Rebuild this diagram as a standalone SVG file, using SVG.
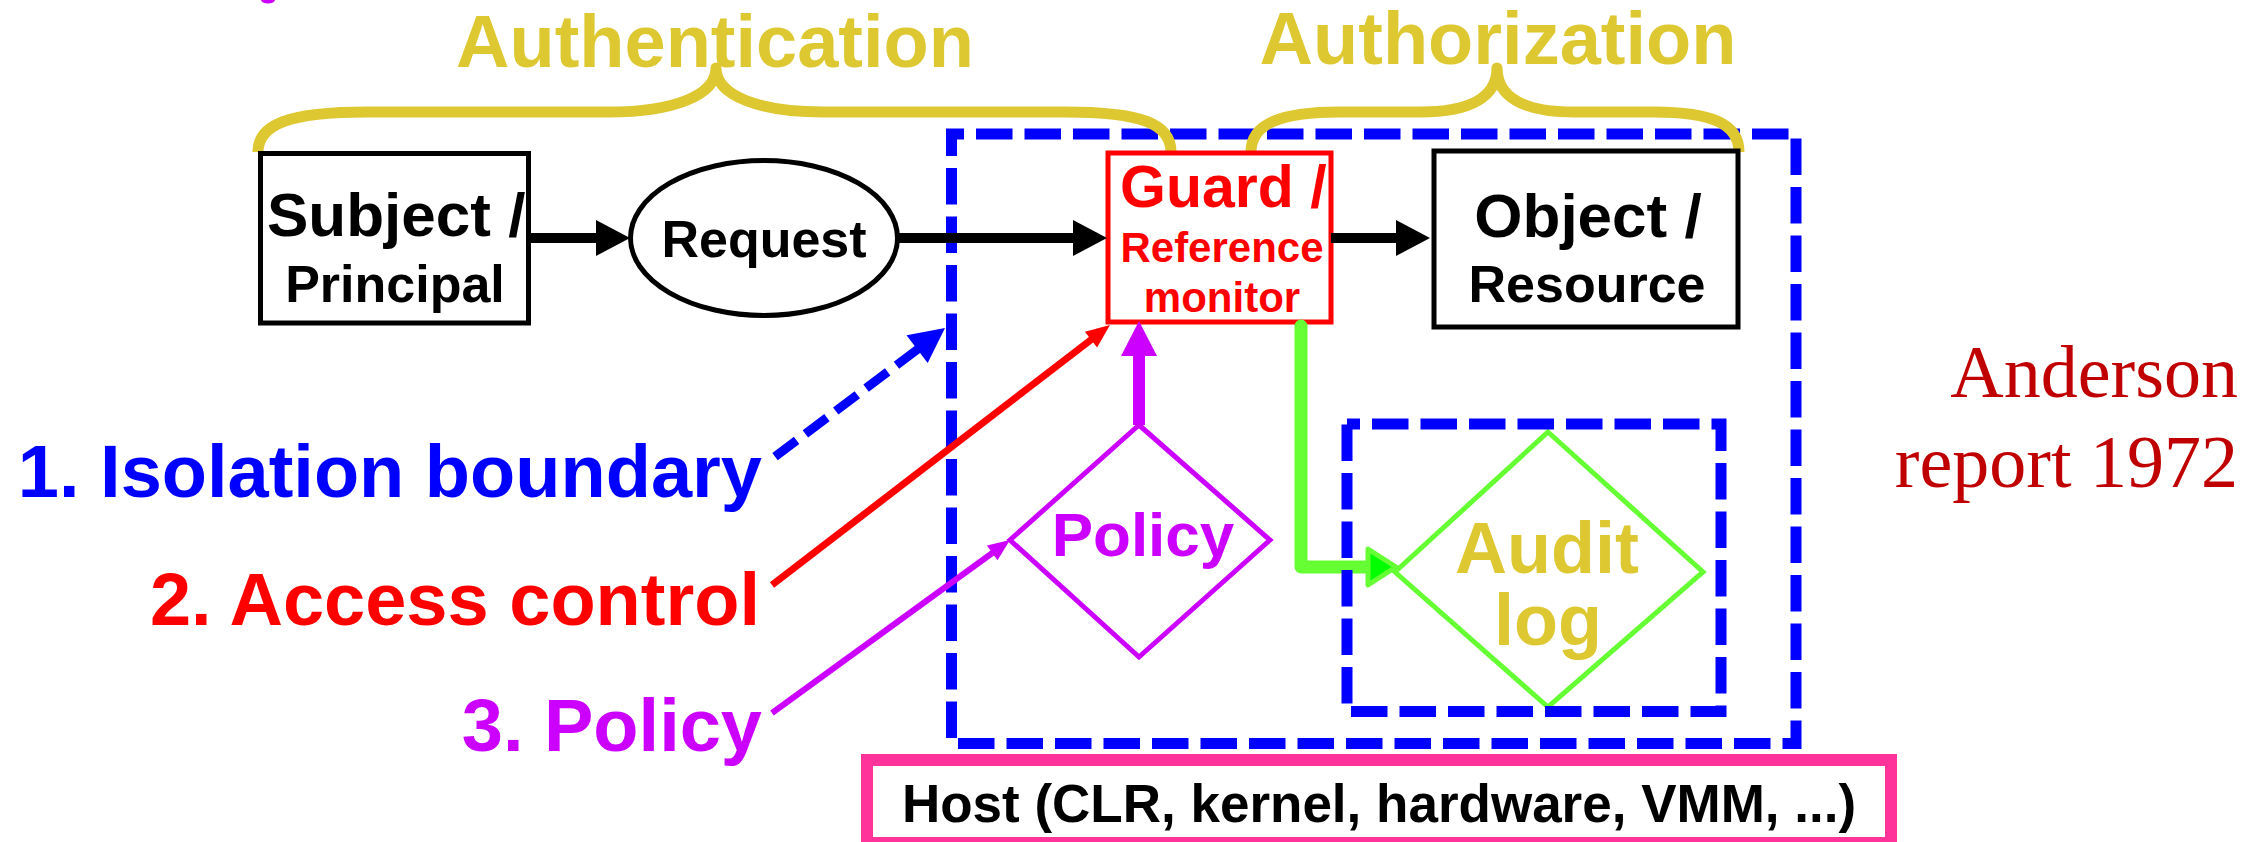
<svg xmlns="http://www.w3.org/2000/svg" width="2266" height="842" viewBox="0 0 2266 842">
<style>
.sans{font-family:"Liberation Sans",Arial,sans-serif;font-weight:bold}
.serif{font-family:"Liberation Serif","Times New Roman",serif}
.mid{text-anchor:middle}
.end{text-anchor:end}
.gold{fill:#DEC832}
.brace{fill:none;stroke:#DEC832;stroke-width:11;stroke-linecap:butt;stroke-linejoin:round}
.bdash{fill:none;stroke:#0000FF;stroke-width:11;stroke-dasharray:36.5 12}
.blk{fill:none;stroke:#000;stroke-width:5}
</style>
<defs>
<marker id="ah" markerUnits="userSpaceOnUse" markerWidth="36" markerHeight="38" refX="0" refY="18" orient="auto">
<path d="M0,0 L34,18 L0,36 z" fill="#000"/>
</marker>
</defs>
<rect width="2266" height="842" fill="#fff"/>
<ellipse cx="268" cy="0" rx="7" ry="3.5" fill="#CC00FF"/>

<g id="isolation-boundary">
<rect x="951.5" y="134" width="844.5" height="609.5" class="bdash" stroke-dashoffset="24"/>
</g>

<g id="authentication">
<path class="brace" d="M258 152 C258 124 290 112 367 112 L609 112 C672 112 716 96 716 68 C716 96 760 112 823 112 L1065 112 C1142 112 1171 124 1171 152"/>
<text class="sans mid gold" x="715" y="67" font-size="74">Authentication</text>
</g>

<g id="authorization">
<path class="brace" d="M1251 152 C1251 124 1280 112 1340 112 L1420 112 C1472 112 1497 96 1497 68 C1497 96 1522 112 1574 112 L1654 112 C1712 112 1739 124 1739 152"/>
<text class="sans mid gold" x="1498" y="64" font-size="74">Authorization</text>
</g>

<g id="subject">
<rect x="260.5" y="153.5" width="268" height="169.5" class="blk"/>
<text class="sans" x="267" y="236" font-size="62">Subject /</text>
<text class="sans mid" x="395" y="302" font-size="52">Principal</text>
</g>

<g id="request">
<ellipse cx="764" cy="238" rx="133.5" ry="77.5" class="blk"/>
<text class="sans mid" x="764" y="257" font-size="52">Request</text>
</g>

<g id="guard">
<rect x="1108" y="153" width="223" height="169" fill="none" stroke="#FF0000" stroke-width="5"/>
<text class="sans" x="1120" y="207" font-size="59" fill="#FF0000">Guard /</text>
<text class="sans mid" x="1222" y="262" font-size="42" fill="#FF0000">Reference</text>
<text class="sans mid" x="1222" y="312" font-size="42" fill="#FF0000">monitor</text>
</g>

<g id="object">
<rect x="1434" y="151" width="304" height="176" class="blk"/>
<text class="sans mid" x="1588" y="237" font-size="62">Object /</text>
<text class="sans mid" x="1587" y="302" font-size="52">Resource</text>
</g>

<g id="policy">
<polygon points="1139,425 1270,540 1139,657 1010,540" fill="none" stroke="#CC00FF" stroke-width="5"/>
<text class="sans mid" x="1143" y="556" font-size="62" fill="#CC00FF">Policy</text>
</g>

<g id="audit-log">
<polygon points="1548,432 1703,572 1548,707 1395,572" fill="none" stroke="#66FF33" stroke-width="5"/>
<text class="sans mid gold" x="1547" y="573" font-size="72">Audit</text>
<text class="sans mid gold" x="1548" y="645" font-size="72">log</text>
</g>

<g id="host">
<rect x="867" y="760" width="1024" height="83" fill="none" stroke="#FF3399" stroke-width="12"/>
<text class="sans mid" x="1379" y="822" font-size="53">Host (CLR, kernel, hardware, VMM, ...)</text>
</g>

<g id="label-isolation">
<text class="sans end" x="762" y="497" font-size="74" fill="#0000FF">1. Isolation boundary</text>
</g>
<g id="label-access">
<text class="sans end" x="760" y="625" font-size="74" fill="#FF0000">2. Access control</text>
</g>
<g id="label-policy">
<text class="sans end" x="762" y="751" font-size="74" fill="#CC00FF">3. Policy</text>
</g>

<g id="anderson">
<text class="serif end" x="2238" y="397" font-size="74" fill="#C00000">Anderson</text>
<text class="serif end" x="2238" y="487" font-size="74" fill="#C00000">report 1972</text>
</g>

<g id="connectors">
<line x1="531" y1="238" x2="596" y2="238" stroke="#000" stroke-width="10" marker-end="url(#ah)"/>
<line x1="899" y1="238" x2="1073" y2="238" stroke="#000" stroke-width="10" marker-end="url(#ah)"/>
<line x1="1331" y1="238" x2="1396" y2="238" stroke="#000" stroke-width="10" marker-end="url(#ah)"/>

<path d="M918 349 L772 459" stroke="#0000FF" stroke-width="9" stroke-dasharray="27 11" fill="none"/>
<polygon points="945,328 927.7,363 906.5,335.2" fill="#0000FF"/>

<line x1="772" y1="585" x2="1092" y2="339" stroke="#FF0000" stroke-width="7"/>
<polygon points="1110,325 1097.1,347.5 1084.9,331.7" fill="#FF0000"/>

<line x1="772" y1="713" x2="993" y2="552.5" stroke="#CC00FF" stroke-width="6"/>
<polygon points="1010,540 997.5,560.2 986.9,545.6" fill="#CC00FF"/>

<line x1="1139" y1="425" x2="1139" y2="354" stroke="#CC00FF" stroke-width="12"/>
<polygon points="1139,321 1157,356 1121,356" fill="#CC00FF"/>

<path d="M1301 326 L1301 567 L1370 567" fill="none" stroke="#66FF33" stroke-width="13" stroke-linecap="round" stroke-linejoin="round"/>
<polygon points="1368,549 1396,567 1368,585" fill="#00FF00" stroke="#66FF33" stroke-width="5" stroke-linejoin="round"/>
</g>

<g id="audit-boundary">
<rect x="1347" y="424" width="374" height="287.5" class="bdash" stroke-dashoffset="23.5"/>
</g>
</svg>
